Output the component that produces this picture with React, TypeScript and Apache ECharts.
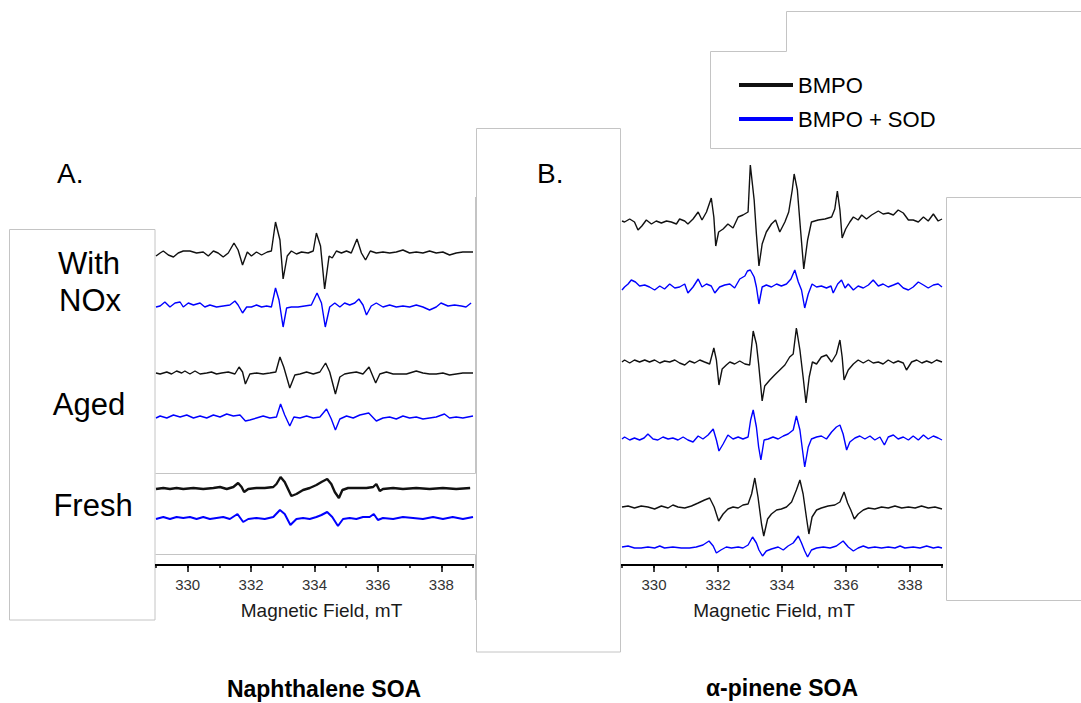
import React, { useEffect, useRef } from "react";
import * as echarts from "echarts";

type Pt = [number, number];

// ---- tick labels / axis ----
const majorTickLabels = ["330", "332", "334", "336", "338"];
const fieldMin = 329;
const fieldMax = 339;
const axisTitle = "Magnetic Field, mT";

// ---- Panel A: Naphthalene SOA (field mT, signal a.u.) ----
const naphNOxBMPO: Pt[] = [[329.0,-3],[329.13,0],[329.23,2],[329.39,-2],[329.55,-4],[329.70,0],[329.86,2],[330.07,2],[330.28,0],[330.49,1],[330.65,-3],[330.81,2],[330.96,0],[331.12,-4],[331.28,0],[331.46,10],[331.59,3],[331.73,-12],[331.88,1],[332.01,-3],[332.17,1],[332.33,-2],[332.51,1],[332.64,2],[332.77,31],[332.91,13],[333.01,-26],[333.14,-3],[333.27,2],[333.43,-1],[333.59,1],[333.80,0],[333.96,2],[334.06,20],[334.19,7],[334.32,-36],[334.46,-3],[334.56,-5],[334.69,2],[334.85,0],[335.01,2],[335.16,0],[335.34,14],[335.48,0],[335.61,-7],[335.76,2],[335.95,0],[336.16,1],[336.37,0],[336.58,1],[336.79,3],[337.00,0],[337.21,1],[337.42,0],[337.63,2],[337.84,0],[338.05,1],[338.26,-2],[338.47,0],[338.68,1],[339.0,1]];
const naphNOxSOD: Pt[] = [[329.0,-1],[329.13,0],[329.28,4],[329.44,-1],[329.60,3],[329.76,4],[329.86,-1],[330.02,3],[330.18,1],[330.39,3],[330.54,-1],[330.70,1],[330.91,-1],[331.12,0],[331.33,1],[331.49,5],[331.59,1],[331.73,-7],[331.86,-1],[332.01,-1],[332.17,1],[332.33,-1],[332.49,0],[332.64,-1],[332.77,18],[332.88,6],[333.01,-21],[333.12,-2],[333.27,-1],[333.48,-1],[333.69,0],[333.90,1],[334.08,13],[334.22,3],[334.34,-21],[334.48,-1],[334.64,3],[334.80,-1],[334.95,3],[335.11,1],[335.27,3],[335.40,7],[335.53,1],[335.64,-9],[335.79,0],[335.95,3],[336.16,-1],[336.37,1],[336.58,-1],[336.79,0],[337.00,-1],[337.21,1],[337.42,-1],[337.63,-4],[337.84,-1],[337.99,3],[338.21,0],[338.42,1],[338.63,0],[338.78,-1],[338.94,3]];
const naphAgedBMPO: Pt[] = [[329.0,0],[329.13,-1],[329.34,1],[329.49,-1],[329.65,2],[329.81,0],[329.91,2],[330.07,-1],[330.23,2],[330.39,-1],[330.60,0],[330.75,1],[330.91,-1],[331.07,0],[331.28,1],[331.49,-1],[331.62,6],[331.73,1],[331.82,-11],[331.96,-1],[332.17,0],[332.38,-1],[332.59,0],[332.78,1],[332.91,16],[333.03,6],[333.22,-15],[333.38,-2],[333.54,-1],[333.75,1],[333.96,-1],[334.17,1],[334.35,10],[334.48,1],[334.66,-21],[334.80,-4],[334.95,-1],[335.11,0],[335.32,1],[335.53,-1],[335.72,6],[335.93,-10],[336.06,-1],[336.27,1],[336.48,-1],[336.69,-1],[336.90,-1],[337.21,2],[337.42,0],[337.63,-1],[337.84,-1],[338.05,0],[338.26,-2],[338.47,-1],[338.68,0],[339.0,0]];
const naphAgedSOD: Pt[] = [[329.0,-1],[329.13,1],[329.34,-1],[329.55,2],[329.76,0],[329.97,2],[330.18,-1],[330.39,1],[330.60,-1],[330.81,2],[331.02,0],[331.23,3],[331.44,1],[331.65,2],[331.82,-4],[331.96,-3],[332.17,-1],[332.38,1],[332.59,-1],[332.80,0],[332.93,13],[333.06,2],[333.22,-9],[333.35,0],[333.54,-1],[333.75,1],[333.96,-1],[334.17,0],[334.38,8],[334.53,-2],[334.66,-13],[334.80,-2],[335.01,1],[335.22,-1],[335.43,2],[335.71,4],[335.95,-4],[336.16,-1],[336.37,0],[336.58,-2],[336.79,1],[337.00,-1],[337.21,0],[337.42,-2],[337.63,-1],[337.84,0],[338.10,3],[338.26,-1],[338.47,0],[338.68,-1],[339.0,1]];
const naphFreshBMPO: Pt[] = [[329.0,-1],[329.23,0],[329.44,-1],[329.65,0],[329.86,-1],[330.18,0],[330.49,-1],[330.81,0],[331.02,1],[331.23,-1],[331.44,1],[331.59,5],[331.70,1],[331.78,-4],[331.91,-1],[332.17,0],[332.43,0],[332.70,1],[332.80,4],[332.93,11],[333.06,6],[333.27,-8],[333.43,-6],[333.64,-2],[333.85,0],[334.06,3],[334.22,6],[334.40,9],[334.53,4],[334.64,-4],[334.77,-10],[334.88,-2],[335.06,0],[335.32,0],[335.64,0],[335.85,1],[335.95,4],[336.06,-3],[336.16,-1],[336.48,0],[336.79,-1],[337.21,0],[337.63,-1],[338.05,0],[338.47,-1],[338.91,0]];
const naphFreshSOD: Pt[] = [[329.0,-1],[329.23,1],[329.44,-1],[329.65,1],[329.86,0],[330.07,1],[330.28,-1],[330.49,1],[330.70,-1],[330.91,0],[331.12,1],[331.33,-1],[331.57,4],[331.75,-4],[331.91,-1],[332.17,0],[332.43,-1],[332.70,1],[332.91,8],[333.06,4],[333.24,-7],[333.43,-1],[333.64,0],[333.85,-1],[334.06,1],[334.22,3],[334.40,6],[334.56,1],[334.74,-8],[334.90,-1],[335.11,0],[335.32,-1],[335.53,1],[335.74,1],[335.87,4],[336.00,-2],[336.16,0],[336.48,-1],[336.79,1],[337.11,0],[337.42,-1],[337.74,1],[338.05,-1],[338.36,1],[338.68,-1],[339.0,1]];

// ---- Panel B: alpha-pinene SOA ----
const pinTopBMPO: Pt[] = [[329.0,1],[329.08,0],[329.24,3],[329.39,0],[329.50,-8],[329.62,-4],[329.76,2],[329.92,-2],[330.07,1],[330.23,-1],[330.39,1],[330.54,0],[330.70,-2],[330.80,3],[330.96,1],[331.06,-2],[331.22,3],[331.38,10],[331.50,2],[331.64,10],[331.79,24],[331.87,5],[331.93,-24],[332.02,-10],[332.16,-7],[332.31,-2],[332.47,-6],[332.63,5],[332.78,7],[332.94,10],[333.01,57],[333.13,22],[333.20,-12],[333.28,-44],[333.38,-22],[333.51,-10],[333.67,-2],[333.80,2],[333.93,-10],[334.09,0],[334.21,10],[334.32,32],[334.38,48],[334.48,32],[334.58,-8],[334.68,-47],[334.80,-18],[334.92,0],[335.13,2],[335.34,3],[335.55,5],[335.65,13],[335.73,31],[335.81,12],[335.88,-16],[335.99,-7],[336.12,0],[336.23,5],[336.38,2],[336.49,7],[336.64,3],[336.80,7],[337.01,11],[337.16,8],[337.32,9],[337.48,7],[337.63,12],[337.79,9],[337.95,2],[338.10,2],[338.26,0],[338.42,5],[338.57,1],[338.73,8],[338.88,1],[339.0,3]];
const pinTopSOD: Pt[] = [[329.0,-3],[329.08,0],[329.19,3],[329.29,7],[329.42,5],[329.55,1],[329.71,2],[329.86,0],[330.02,-3],[330.18,1],[330.33,-2],[330.49,3],[330.65,-1],[330.80,0],[330.96,3],[331.06,-6],[331.22,0],[331.38,8],[331.50,0],[331.64,3],[331.79,1],[331.90,-6],[332.05,0],[332.21,2],[332.37,3],[332.52,-1],[332.68,8],[332.84,11],[332.92,16],[333.01,17],[333.13,10],[333.20,0],[333.28,-17],[333.38,0],[333.51,2],[333.67,0],[333.83,3],[333.98,1],[334.14,3],[334.28,8],[334.40,17],[334.51,5],[334.61,-3],[334.71,-21],[334.82,-7],[334.94,3],[335.08,0],[335.23,1],[335.39,-1],[335.53,1],[335.60,-6],[335.74,3],[335.86,7],[335.97,-1],[336.07,3],[336.23,-3],[336.38,1],[336.54,-1],[336.70,2],[336.85,7],[337.01,1],[337.16,3],[337.32,0],[337.48,2],[337.63,4],[337.79,-1],[337.95,-3],[338.10,0],[338.26,5],[338.42,2],[338.57,-1],[338.73,2],[338.88,3],[339.0,0]];
const pinMidBMPO: Pt[] = [[329.0,0],[329.08,2],[329.24,-1],[329.39,2],[329.55,0],[329.71,2],[329.86,0],[330.02,2],[330.18,-1],[330.33,1],[330.49,0],[330.65,2],[330.80,-1],[330.96,-3],[331.11,1],[331.27,-1],[331.43,2],[331.58,0],[331.74,-2],[331.87,14],[331.95,2],[332.03,-23],[332.13,-7],[332.26,-3],[332.37,0],[332.52,-2],[332.68,1],[332.84,-2],[332.99,-3],[333.10,31],[333.20,18],[333.27,-2],[333.38,-39],[333.46,-24],[333.62,-18],[333.77,-13],[333.93,-8],[334.09,-3],[334.24,5],[334.35,8],[334.45,34],[334.56,12],[334.66,-15],[334.75,-41],[334.85,-15],[334.95,0],[335.08,-2],[335.23,5],[335.39,7],[335.55,0],[335.70,8],[335.81,22],[335.88,5],[335.94,-18],[336.07,-8],[336.23,-2],[336.38,2],[336.54,-1],[336.70,2],[336.85,-1],[337.01,0],[337.16,-2],[337.32,2],[337.48,-1],[337.63,1],[337.79,-1],[337.89,-8],[338.05,0],[338.21,2],[338.37,-1],[338.52,1],[338.68,-1],[338.83,2],[339.0,0]];
const pinMidSOD: Pt[] = [[329.0,-1],[329.08,1],[329.24,-2],[329.39,0],[329.55,-2],[329.69,0],[329.81,4],[329.97,-1],[330.12,-2],[330.28,1],[330.44,-1],[330.59,0],[330.75,-2],[330.91,1],[331.06,-2],[331.22,-4],[331.38,2],[331.53,-1],[331.69,3],[331.85,9],[331.95,-2],[332.03,-13],[332.16,-6],[332.31,3],[332.47,-1],[332.63,1],[332.78,-1],[332.94,1],[333.02,18],[333.10,28],[333.20,11],[333.27,-9],[333.34,-22],[333.44,-2],[333.57,-1],[333.72,1],[333.88,-1],[334.04,2],[334.19,4],[334.35,8],[334.45,22],[334.56,8],[334.64,-12],[334.71,-29],[334.82,-9],[334.92,-1],[335.08,1],[335.23,2],[335.39,-1],[335.55,6],[335.70,11],[335.81,13],[335.91,4],[336.02,-12],[336.12,-4],[336.28,0],[336.43,2],[336.59,-1],[336.75,2],[336.90,-2],[337.06,1],[337.20,-7],[337.32,1],[337.48,3],[337.63,-1],[337.79,1],[337.95,-2],[338.10,2],[338.26,-2],[338.42,3],[338.57,-1],[338.73,2],[338.88,0],[339.0,-2]];
const pinFreshBMPO: Pt[] = [[329.0,0],[329.19,1],[329.39,-1],[329.60,1],[329.81,0],[330.02,-2],[330.23,1],[330.44,-1],[330.59,2],[330.75,0],[330.96,-1],[331.17,1],[331.38,4],[331.58,7],[331.74,9],[331.88,0],[332.02,-14],[332.16,-7],[332.31,-2],[332.47,0],[332.63,-1],[332.78,2],[332.94,3],[333.05,13],[333.15,29],[333.25,10],[333.36,-17],[333.43,-29],[333.55,-12],[333.67,-7],[333.83,-3],[333.98,-2],[334.14,0],[334.30,5],[334.45,17],[334.56,27],[334.66,13],[334.77,-12],[334.84,-27],[334.94,-10],[335.08,-3],[335.23,-1],[335.44,1],[335.65,2],[335.81,5],[335.94,15],[336.05,4],[336.15,-3],[336.26,-12],[336.38,-7],[336.54,-3],[336.70,-1],[336.90,-2],[337.11,0],[337.32,-1],[337.53,1],[337.74,-1],[337.95,0],[338.16,-1],[338.36,1],[338.57,-1],[338.78,0],[339.0,-2]];
const pinFreshSOD: Pt[] = [[329.0,1],[329.19,2],[329.39,0],[329.60,0],[329.81,1],[330.02,0],[330.18,2],[330.33,0],[330.59,1],[330.85,0],[331.11,0],[331.32,1],[331.53,3],[331.72,7],[331.85,2],[331.95,-5],[332.09,-2],[332.26,1],[332.42,0],[332.63,1],[332.78,0],[332.94,3],[333.08,11],[333.20,5],[333.28,-2],[333.39,-8],[333.51,-3],[333.67,-1],[333.88,1],[334.04,-2],[334.19,2],[334.35,5],[334.51,12],[334.61,5],[334.71,-3],[334.80,-9],[334.92,-2],[335.08,0],[335.29,1],[335.50,0],[335.70,2],[335.91,7],[336.07,1],[336.23,-3],[336.38,0],[336.54,2],[336.70,0],[336.90,1],[337.11,0],[337.32,1],[337.53,0],[337.69,2],[337.84,0],[338.10,1],[338.31,0],[338.52,2],[338.73,0],[338.88,1],[339.0,0]];

// vertical stacking offsets of the spectra (a.u.)
const naphOffsets = [312, 259, 192, 148, 77, 47];
const pinOffsets = [343, 278, 203, 127, 58, 17];

const seriesNames = ["BMPO", "BMPO + SOD"];
const rowLabels = ["With", "NOx", "Aged", "Fresh"];
const panelLetters = ["A.", "B."];
const panelTitles = ["Naphthalene SOA", "\u03b1-pinene SOA"];

const FONT = 'Arial, "Liberation Sans", Helvetica, sans-serif';
const BOX = "#c4c4c4";
const BLACK = "#111111";
const BLUE = "#0000ff";

export default function App() {
  const ref = useRef<HTMLDivElement>(null);

  useEffect(() => {
    const chart = echarts.init(ref.current as HTMLDivElement, null, { renderer: "svg" });

    const gA = { left: 156, top: 190, width: 317, height: 375 };
    const gB = { left: 622, top: 150, width: 320, height: 415 };

    // value axis: carries the data, draws the minor (1 mT) ticks
    const valueX = (gi: number) => ({
      type: "value",
      gridIndex: gi,
      min: fieldMin,
      max: fieldMax,
      interval: 1,
      axisLine: { show: true, onZero: false, lineStyle: { color: "#000000", width: 2 } },
      axisTick: { show: true, length: 3, lineStyle: { color: "#000000", width: 1.5 } },
      axisLabel: { show: false },
      splitLine: { show: false },
    });
    // twin category axis: major (2 mT) ticks, labels and axis title
    const catX = (gi: number, pad: number[]) => ({
      type: "category",
      gridIndex: gi,
      data: majorTickLabels,
      boundaryGap: true,
      axisLine: { show: false },
      axisTick: { show: true, alignWithLabel: true, interval: 0, length: 7, lineStyle: { color: "#000000", width: 1.5 } },
      axisLabel: { interval: 0, fontSize: 15, color: "#333", fontFamily: FONT, margin: 12 },
      splitLine: { show: false },
      name: axisTitle,
      nameLocation: "middle",
      nameGap: 36,
      nameTextStyle: { fontSize: 19, color: "#1a1a1a", fontFamily: FONT, padding: pad },
    });
    const hiddenY = (gi: number, h: number) => ({ type: "value", gridIndex: gi, min: 0, max: h, show: false });

    const mk = (name: string, data: Pt[], offset: number, xi: number, color: string, width: number) => ({
      type: "line",
      name,
      xAxisIndex: xi,
      yAxisIndex: xi,
      data: data.map(([f, v]) => [f, v + offset]),
      symbol: "none",
      showSymbol: false,
      silent: true,
      color,
      itemStyle: { color },
      lineStyle: { color, width },
      z: 3,
    });

    const naph = [naphNOxBMPO, naphNOxSOD, naphAgedBMPO, naphAgedSOD, naphFreshBMPO, naphFreshSOD];
    const pin = [pinTopBMPO, pinTopSOD, pinMidBMPO, pinMidSOD, pinFreshBMPO, pinFreshSOD];
    const series: any[] = [];
    naph.forEach((d, i) => {
      const isSod = i % 2 === 1;
      const w = i >= 4 ? (isSod ? 2 : 2.4) : 1.4;
      series.push(mk(seriesNames[isSod ? 1 : 0], d, naphOffsets[i], 0, isSod ? BLUE : BLACK, w));
    });
    pin.forEach((d, i) => {
      const isSod = i % 2 === 1;
      series.push(mk(seriesNames[isSod ? 1 : 0], d, pinOffsets[i], 2, isSod ? BLUE : BLACK, 1.4));
    });

    const boxStyle = () => ({ stroke: BOX, fill: "none", lineWidth: 1 });
    const txt = (text: string, x: number, y: number, size: number, align: string, weight = "normal") => ({
      type: "text",
      x,
      y,
      silent: true,
      style: { text, fontSize: size, fontFamily: FONT, fontWeight: weight, fill: "#000", align, verticalAlign: "middle" },
    });

    const decorations: any[] = [
      { type: "polyline", silent: true, shape: { points: [[1082, 148.5], [710.5, 148.5], [710.5, 51.5], [786.5, 51.5], [786.5, 11.5], [1082, 11.5]] }, style: boxStyle() },
      { type: "rect", silent: true, shape: { x: 9.5, y: 229.5, width: 145.5, height: 390.5 }, style: boxStyle() },
      { type: "polyline", silent: true, shape: { points: [[155.5, 473.5], [475.5, 473.5], [475.5, 197]] }, style: boxStyle() },
      { type: "polyline", silent: true, shape: { points: [[155.5, 554.5], [475.5, 554.5], [475.5, 600]] }, style: boxStyle() },
      { type: "rect", silent: true, shape: { x: 476.5, y: 128.5, width: 144, height: 523.5 }, style: boxStyle() },
      { type: "polyline", silent: true, shape: { points: [[1082, 197.5], [946.5, 197.5], [946.5, 600.5], [1082, 600.5]] }, style: boxStyle() },
      txt(panelLetters[0], 57, 173, 28, "left"),
      txt(panelLetters[1], 537, 173, 28, "left"),
      txt(rowLabels[0], 89, 263, 31, "center"),
      txt(rowLabels[1], 90, 300, 31, "center"),
      txt(rowLabels[2], 89, 404, 31, "center"),
      txt(rowLabels[3], 93, 505, 31, "center"),
      txt(panelTitles[0], 324, 689, 23, "center", "bold"),
      txt(panelTitles[1], 782, 688, 23, "center", "bold"),
    ];

    const option: any = {
      animation: false,
      grid: [gA, gA, gB, gB],
      xAxis: [valueX(0), catX(1, [0, 0, 0, 14]), valueX(2), catX(3, [0, 16, 0, 0])],
      yAxis: [hiddenY(0, gA.height), hiddenY(1, gA.height), hiddenY(2, gB.height), hiddenY(3, gB.height)],
      legend: {
        data: seriesNames,
        orient: "vertical",
        left: 739,
        top: 74,
        padding: 0,
        itemWidth: 54,
        itemHeight: 4,
        itemGap: 12,
        icon: "rect",
        selectedMode: false,
        textStyle: { fontSize: 22, color: "#000", fontFamily: FONT, lineHeight: 22 },
      },
      series,
      graphic: decorations,
    };

    chart.setOption(option);

    // axis base lines, positioned through each panel's own scales
    const baseLine = (gridIndex: number) => {
      const a = chart.convertToPixel({ gridIndex } as any, [fieldMin, 0]) as number[];
      const b = chart.convertToPixel({ gridIndex } as any, [fieldMax, 0]) as number[];
      return {
        type: "line",
        silent: true,
        z: 100,
        shape: { x1: a[0] - 1, y1: a[1], x2: b[0] + 1, y2: b[1] },
        style: { stroke: "#000000", lineWidth: 2 },
      };
    };
    chart.setOption({ graphic: [...decorations, baseLine(0), baseLine(2)] });

    return () => chart.dispose();
  }, []);

  return (
    <div
      ref={ref}
      style={{ position: "absolute", left: 0, top: 0, width: 1081, height: 703, background: "#fff" }}
    />
  );
}
